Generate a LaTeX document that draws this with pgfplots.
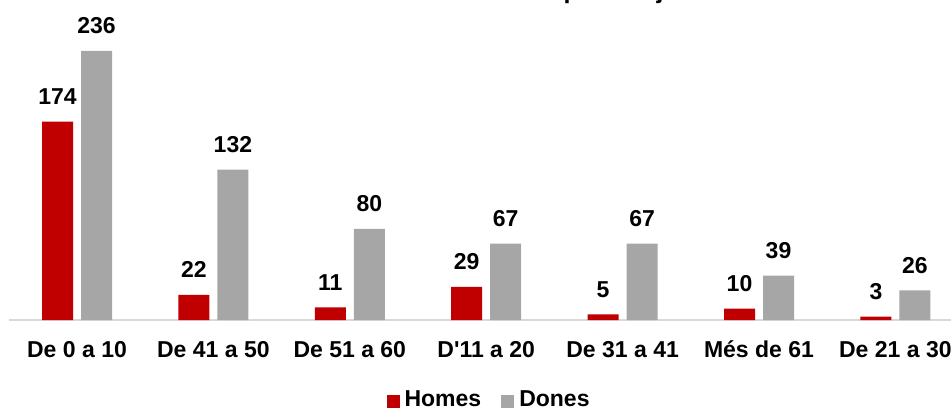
\documentclass[border=0pt]{standalone}
\usepackage{fontspec}
\setmainfont{Liberation Sans}
\usepackage{pgfplots}
\pgfplotsset{compat=1.18}
\definecolor{homes}{HTML}{C00000}
\definecolor{dones}{HTML}{A6A6A6}
\definecolor{axisgray}{HTML}{D9D9D9}
\begin{document}
\begin{tikzpicture}
\useasboundingbox (0,0) rectangle (951pt,408pt);
\clip (0,0) rectangle (951pt,408pt);
\node[anchor=base, font=\fontsize{25}{30}\selectfont\bfseries] at (489pt,409.5pt) {Gràfic 5. Incidents detectats per franja d\textquotesingle edat};
\begin{axis}[
  at={(8.8pt,88pt)}, anchor=south west,
  x=136.4pt, y=1.14pt,
  xmin=-0.5, xmax=6.5, ymin=0, ymax=250,
  enlargelimits=false,
  ybar=8pt, bar width=31pt,
  axis x line*=bottom, hide y axis,
  axis line style={draw=axisgray, line width=2pt, -},
  xtick={0,...,6},
  xticklabels={De 0 a 10, De 41 a 50, De 51 a 60, D\textquotesingle 11 a 20, De 31 a 41, Més de 61, De 21 a 30},
  major tick length=0pt,
  xticklabel style={font=\fontsize{23}{27}\selectfont\bfseries, anchor=base, yshift=-37pt},
  nodes near coords,
  nodes near coords style={font=\fontsize{23}{27}\selectfont\bfseries, anchor=base, yshift=17pt, inner sep=0pt},
  /pgf/number format/assume math mode=true,
  clip=false,
  legend columns=2,
  legend image code/.code={\fill[#1] (0pt,-8pt) rectangle (13pt,5pt); \path (16pt,0pt);},
  legend style={draw=none, fill=none, font=\fontsize{23}{27}\selectfont\bfseries,
    at={(0.503,-0.28)}, anchor=center,
    /tikz/every even column/.append style={column sep=18pt}},
]
\addplot[fill=homes, draw=none] coordinates {(0,174) (1,22) (2,11) (3,29) (4,5) (5,10) (6,3)};
\addplot[fill=dones, draw=none] coordinates {(0,236) (1,132) (2,80) (3,67) (4,67) (5,39) (6,26)};
\legend{Homes, Dones}
\end{axis}
\end{tikzpicture}
\end{document}
